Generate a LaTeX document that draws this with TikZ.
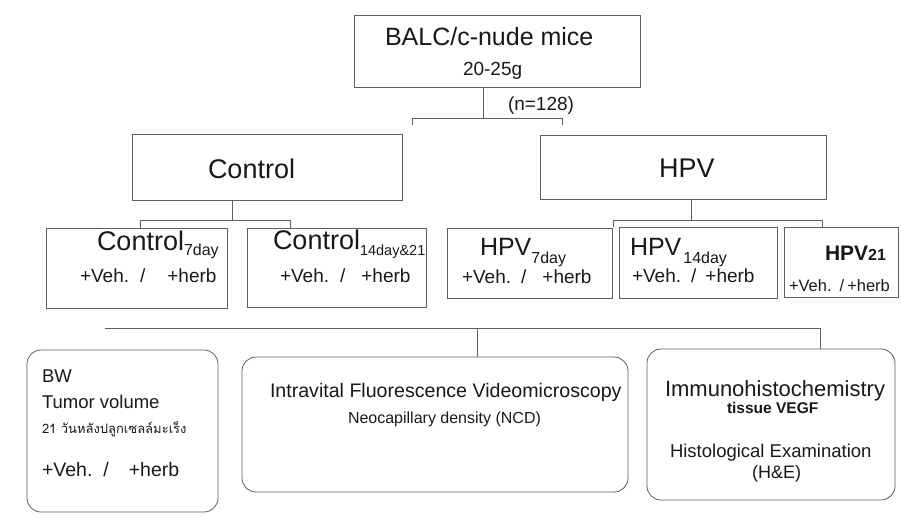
\documentclass[tikz,border=0pt]{standalone}
\usepackage{fontspec}
\usepackage{graphicx}
\setmainfont{Liberation Sans}
\newfontfamily\thaifont[Script=Thai]{Loma}
\newcommand\setfs[1]{\fontsize{#1}{#1}\selectfont}
\definecolor{linegray}{RGB}{95,95,95}
\definecolor{inkc}{RGB}{25,25,25}
\begin{document}
\begin{tikzpicture}[x=1pt,y=-1pt,
  box/.style={draw=linegray, line width=0.8pt, inner sep=0pt, outer sep=0pt},
  rbox/.style={box, rounded corners=14pt},
  txt/.style={inner sep=0pt, outer sep=0pt, anchor=base west, text=inkc},
  conn/.style={draw=linegray, line width=0.8pt}]
\fill[white] (0,0) rectangle (901,517);
\useasboundingbox (0,0) rectangle (901,517);

% boxes
\node[box, minimum width=286pt, minimum height=72pt] (top) at (497,51) {};
\node[box, minimum width=270pt, minimum height=66pt] (ctrl) at (267,167) {};
\node[box, minimum width=286pt, minimum height=64pt] (hpv) at (683,167) {};
\node[box, minimum width=181pt, minimum height=80pt] (c7) at (136.5,268) {};
\node[box, minimum width=179pt, minimum height=79pt] (c14) at (336.5,267.5) {};
\node[box, minimum width=165pt, minimum height=70pt] (h7) at (529.5,263) {};
\node[box, minimum width=158pt, minimum height=71pt] (h14) at (698,262.5) {};
\node[box, minimum width=114pt, minimum height=70pt] (h21) at (841,262) {};
\node[rbox, minimum width=191pt, minimum height=162pt] (b1) at (122.5,431) {};
\node[rbox, minimum width=386pt, minimum height=135pt] (b2) at (435,424.5) {};
\node[rbox, minimum width=248pt, minimum height=151pt] (b3) at (771,424.5) {};

% connectors
\coordinate (tj) at (483,118);
\coordinate (tl) at (412,118);
\coordinate (tr) at (562,118);
\coordinate (tle) at (412,125);
\coordinate (tre) at (562,125);
\draw[conn] (top.south -| tj) -- (tj);
\draw[conn] (tle) -- (tl) -- (tr) -- (tre);

\coordinate (cj) at (232,220);
\coordinate (cl) at (140,220);
\coordinate (cr) at (290,220);
\draw[conn] (ctrl.south -| cj) -- (cj);
\draw[conn] (c7.north -| cl) -- (cl) -- (cr) -- (c14.north -| cr);

\coordinate (hj) at (691,220);
\coordinate (hl) at (613,220);
\coordinate (hr) at (822,220);
\draw[conn] (hpv.south -| hj) -- (hj);
\draw[conn] (h14.north -| hl) -- (hl) -- (hr) -- (h21.north -| hr);

\coordinate (bl) at (105,328);
\coordinate (bm) at (477,328);
\coordinate (br) at (820,328);
\draw[conn] (bl) -- (br) -- (b3.north -| br);
\draw[conn] (bm) -- (b2.north -| bm);

% texts
\node[txt] (tt1) at (385,45) {\setfs{25}BALC/c-nude mice};
\node[txt] (tt2) at (463,75) {\setfs{19}20-25g};
\node[txt] (nn) at (508,110) {\setfs{19}(n=128)};
\node[txt] (ct) at (208,178) {\setfs{27}Control};
\node[txt] (ht) at (659,177) {\setfs{27}HPV};

\node[txt] (c7t) at (97,250) {\setfs{27}Control\setfs{16}\raisebox{-5pt}{7day}};
\node[txt] (c7v) at (80,282) {\setfs{19}+Veh.\hspace{11pt}/\hspace{22pt}+herb};
\node[txt] (c14t) at (273,249) {\setfs{27}Control\setfs{14.5}\raisebox{-6pt}{14day\&21}};
\node[txt] (c14v) at (280,282) {\setfs{19}+Veh.\hspace{11pt}/\hspace{16pt}+herb};

\node[txt] (h7t) at (480,255) {\setfs{25}HPV\setfs{16}\raisebox{-8pt}{7day}};
\node[txt] (h7v) at (462,283) {\setfs{19}+Veh.\hspace{10pt}/\hspace{16pt}+herb};
\node[txt] (h14t) at (630,255) {\setfs{25}HPV\hspace{2pt}\setfs{16}\raisebox{-8pt}{14day}};
\node[txt] (h14v) at (632,282) {\setfs{19}+Veh.\hspace{10pt}/\hspace{9pt}+herb};
\node[txt] (h21t) at (825,260) {\bfseries\setfs{21}HPV\setfs{16}21};
\node[txt] (h21v) at (789,291) {\setfs{16.5}+Veh.\hspace{8pt}/\hspace{3pt}+herb};

\node[txt] (bw) at (42,382) {\setfs{18.5}BW};
\node[txt] (tv) at (42,408) {\setfs{18.5}Tumor volume};
\node[txt] (th) at (42,433) {\setfs{13}\thaifont 21 วันหลังปลูกเซลล์มะเร็ง};
\node[txt] (bv) at (42,476) {\setfs{19.5}+Veh.\hspace{11pt}/\hspace{20pt}+herb};

\node[txt] (iv) at (270,397) {\setfs{19.6}Intravital Fluorescence Videomicroscopy};
\node[txt] (nc) at (348,423) {\setfs{16}Neocapillary density (NCD)};

\node[txt] (ih) at (665,396) {\setfs{22}Immunohistochemistry};
\node[txt] (tvg) at (727,413) {\setfs{15.5}\bfseries tissue VEGF};
\node[txt] (he) at (670,457) {\setfs{18.5}Histological Examination};
\node[txt] (hee) at (752,478) {\setfs{18}(H\&E)};
\end{tikzpicture}
\end{document}
